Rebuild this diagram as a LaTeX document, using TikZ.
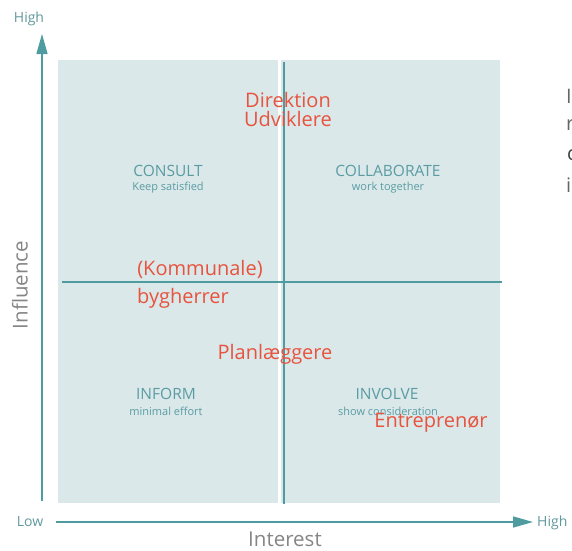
\documentclass[tikz,border=0pt]{standalone}
\usepackage{fontspec}
\setmainfont{Open Sans}
\usetikzlibrary{arrows.meta}
\definecolor{feltfarve}{HTML}{DAE8EA}
\definecolor{akse}{HTML}{4E9CA0}
\definecolor{kvtekst}{HTML}{5A9CA2}
\definecolor{aktoer}{HTML}{E8533E}
\definecolor{graa}{HTML}{858585}

\begin{document}
\begin{tikzpicture}[x=1pt,y=-1pt]
\tikzstyle{pil} = [akse, line width=1.4pt, -{Triangle[length=20pt,width=11pt]}]
\tikzstyle{kvadrant} = [text=kvtekst, font=\fontsize{15.5}{17}\selectfont, inner sep=0pt]
\tikzstyle{undertekst} = [text=kvtekst, font=\fontsize{11}{13}\selectfont, inner sep=0pt]
\tikzstyle{aktor} = [text=aktoer, font=\fontsize{20}{23}\selectfont, inner sep=0pt]
\tikzstyle{akselabel} = [text=kvtekst!85!gray, font=\fontsize{14}{16}\selectfont, inner sep=0pt]
\useasboundingbox (0,0) rectangle (572,550);
% felt og skillelinjer
\fill[feltfarve] (58,60) rectangle (500,503);
\draw[white, line width=3pt] (279,60) -- (279,503);
\coordinate (top) at (284,62);
\coordinate (bund) at (284,504);
\coordinate (venstre) at (62,282);
\coordinate (hoejre) at (502,282);
\draw[akse, line width=1.5pt] (top) -- (bund);
\draw[akse, line width=1.3pt] (venstre) -- (hoejre);
% akser
\coordinate (y0) at (42,501);
\coordinate (y1) at (42,34);
\coordinate (x0) at (56,522);
\coordinate (x1) at (533,522);
\draw[pil] (y0) -- (y1);
\draw[pil] (x0) -- (x1);
\node[akselabel] (yhigh) at (29,19) {High};
\node[akselabel] (xlow) at (30,522) {Low};
\node[akselabel, anchor=west] (xhigh) at (537,523) {High};
\node[text=graa, font=\fontsize{20.5}{23}\selectfont, rotate=90, inner sep=0pt] (influence) at (20,285) {Influence};
\node[text=graa, font=\fontsize{20.5}{23}\selectfont, inner sep=0pt] (interest) at (285,539) {Interest};
% kvadranter
\node[kvadrant] (consult) at (168,171) {CONSULT};
\node[undertekst] (consultu) at (168,188) {Keep satisfied};
\node[kvadrant] (collab) at (388,171) {COLLABORATE};
\node[undertekst] (collabu) at (388,188) {work together};
\node[kvadrant] (inform) at (166,394) {INFORM};
\node[undertekst] (informu) at (166,411) {minimal effort};
\node[kvadrant] (involve) at (387,394) {INVOLVE};
\node[undertekst] (involveu) at (388,411) {show consideration};
% aktører
\node[aktor] (direktion) at (288,100) {Direktion};
\node[aktor] (udviklere) at (288,119) {Udviklere};
\node[aktor] (kommunale) at (200,269) {(Kommunale)};
\node[aktor] (bygherrer) at (183,298) {bygherrer};
\node[aktor] (planlaeggere) at (275,354) {Planlæggere};
\node[aktor] (entreprenor) at (431,423) {Entreprenør};
% afskåret tekst i højre kant
\node[text=black!60, font=\fontsize{20}{23}\selectfont, anchor=west, inner sep=0pt] (r1) at (566,96) {I};
\node[text=black!60, font=\fontsize{20}{23}\selectfont, anchor=west, inner sep=0pt] (r2) at (566,125) {r};
\node[text=black!75, font=\fontsize{20}{23}\selectfont, anchor=west, inner sep=0pt] (r3) at (567,155) {c};
\node[text=black!60, font=\fontsize{20}{23}\selectfont, anchor=west, inner sep=0pt] (r4) at (566,185) {i};
\end{tikzpicture}
\end{document}
